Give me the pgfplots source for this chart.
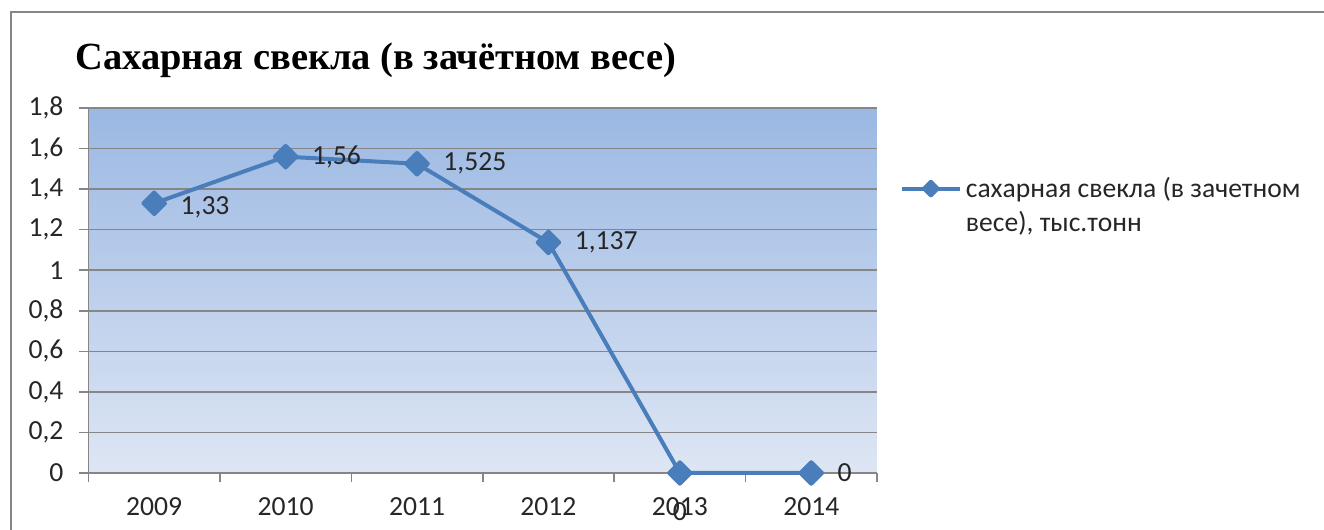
\documentclass[border=0pt]{standalone}
\usepackage{pgfplots}
\pgfplotsset{compat=1.18}
\usepackage{pgfplotstable}
\usepackage{fontspec}
\setmainfont{Carlito}
\newfontfamily\titlefont{Liberation Serif}

\definecolor{serie}{RGB}{74,126,187}
\definecolor{gridgray}{RGB}{134,134,134}
\definecolor{bgtop}{RGB}{155,184,227}
\definecolor{bgbot}{RGB}{222,230,244}

% year index (0 = 2009), value
\pgfplotstableread{
x y
0 1.33
1 1.56
2 1.525
3 1.137
4 0
5 0
}\beet

\pgfplotsset{lbl/.style={forget plot, draw=none, mark=none,
    point meta=y, nodes near coords,
    every node near coord/.append style={inner sep=0pt,
        font=\fontsize{13.8}{16}\selectfont, text=black!85}}}

\begin{document}
\begin{tikzpicture}
\path[use as bounding box] (0pt,0pt) rectangle (662pt,265pt);
\draw[gridgray, line width=1.2pt] (5.5pt,0pt) -- (5.5pt,259pt) -- (662pt,259pt);
\node[anchor=base west, inner sep=0pt, font=\titlefont\bfseries\fontsize{19.2}{23}\selectfont]
  at (37.5pt,230pt) {Сахарная свекла (в зачётном весе)};
\begin{axis}[
    at={(44.25pt,28.5pt)}, anchor=south west,
    scale only axis, width=394.25pt, height=182.5pt,
    xmin=-0.5, xmax=5.5, ymin=0, ymax=1.8,
    xtick={-0.5,0.5,1.5,2.5,3.5,4.5,5.5},
    xticklabels={2009,2010,2011,2012,2013,2014},
    x tick label as interval,
    ytick={0,0.2,0.4,0.6,0.8,1,1.2,1.4,1.6,1.8},
    axis x line*=bottom, axis y line*=left,
    axis line style={-, gridgray, line width=0.8pt},
    tick align=outside, major tick length=4.5pt,
    tick style={gridgray, line width=0.8pt},
    ymajorgrids, grid style={gridgray, line width=0.8pt},
    axis background/.style={top color=bgtop, bottom color=bgbot},
    ticklabel style={font=\fontsize{13.8}{16}\selectfont, text=black!85},
    yticklabel style={xshift=-4.5pt},
    xticklabel style={yshift=-4.5pt},
    /pgf/number format/assume math mode=true,
    /pgf/number format/use comma,
    /pgf/number format/precision=3,
    legend style={at={(1.029,0.822)}, anchor=north west, draw=none, fill=none,
        inner sep=0pt, outer sep=0pt,
        font=\fontsize{13.8}{17}\selectfont, text=black!85},
    legend cell align=left,
    legend image code/.code={
        \draw[mark repeat=2, mark phase=2, mark size=2.4pt]
        plot coordinates {(0pt,0pt) (14.5pt,0pt) (29pt,0pt)};},
    clip=false,
]
\addplot[serie, line width=2pt, line join=round,
    mark=square*, mark size=3.8pt, mark options={rotate=45, solid, fill=serie},
] table[x=x, y=y] {\beet};
\addlegendentry{\parbox[t]{180pt}{сахарная свекла (в зачетном\\весе), тыс.тонн}}
% data labels: right of the point, except 2013 (below)
\addplot[lbl, skip coords between index={1}{6},
    nodes near coords style={anchor=west, xshift=13pt, yshift=-1.8pt}] table[x=x, y=y] {\beet};
\addplot[lbl, skip coords between index={0}{1}, skip coords between index={4}{5},
    nodes near coords style={anchor=west, xshift=13pt}] table[x=x, y=y] {\beet};
\addplot[lbl, skip coords between index={0}{4}, skip coords between index={5}{6},
    nodes near coords style={anchor=north, yshift=-14.5pt}] table[x=x, y=y] {\beet};
\end{axis}
\end{tikzpicture}
\end{document}
